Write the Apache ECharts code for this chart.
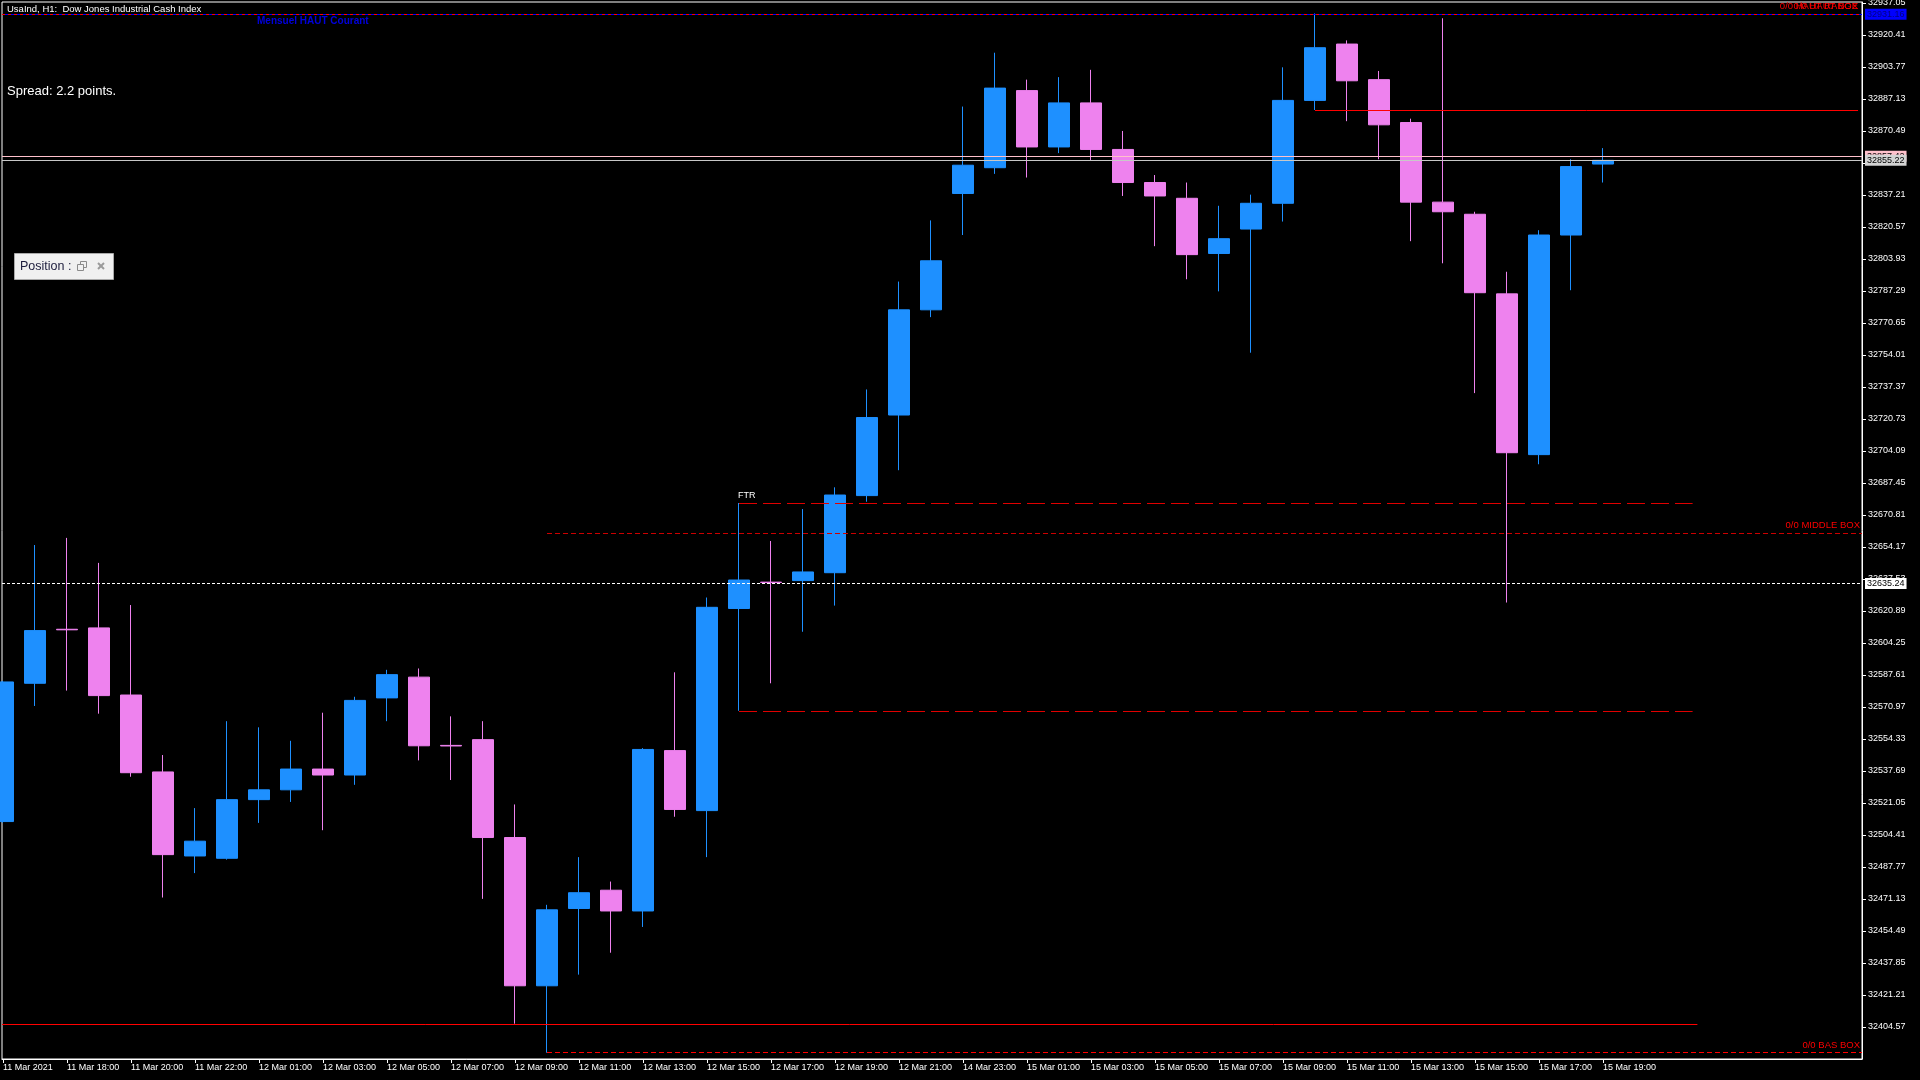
<!DOCTYPE html>
<html>
<head>
<meta charset="utf-8">
<title>UsaInd, H1</title>
<script src="https://cdn.jsdelivr.net/npm/echarts@6.0.0/dist/echarts.min.js"></script>
<style>
  html, body { margin: 0; padding: 0; background: #000; }
  #chart { width: 1920px; height: 1080px; }
</style>
</head>
<body>
<div id="chart"></div>
<script>
// one bar per hour, bar 0 = 11 Mar 16:00
const opens = [32511.4, 32583.3, 32611.4, 32612.1, 32577.2, 32537.2, 32493.5, 32492.3, 32522.8, 32527.9,
  32538.7, 32535.6, 32575.7, 32586.5, 32551.0, 32554.0, 32503.1, 32426.0, 32466.2, 32475.7,
  32464.9, 32548.3, 32517.1, 32622.2, 32635.9, 32636.7, 32640.8, 32680.9, 32722.8, 32777.5,
  32838.0, 32851.4, 32891.5, 32862.2, 32885.1, 32860.9, 32843.7, 32835.5, 32806.8, 32819.5,
  32832.9, 32886.4, 32915.7, 32897.2, 32874.9, 32833.5, 32827.2, 32785.8, 32702.2, 32816.4,
  32853.3];
const closes = [32584.0, 32610.7, 32611.1, 32576.9, 32536.8, 32494.2, 32501.2, 32522.8, 32527.9, 32538.7,
  32535.6, 32574.4, 32587.8, 32550.8, 32550.7, 32503.1, 32426.0, 32465.5, 32474.4, 32464.9,
  32548.9, 32517.7, 32622.8, 32637.0, 32635.7, 32641.2, 32681.2, 32721.5, 32777.5, 32803.0,
  32852.7, 32892.8, 32862.2, 32885.1, 32860.9, 32843.7, 32836.7, 32806.2, 32814.5, 32832.9,
  32886.4, 32913.8, 32896.6, 32873.7, 32833.5, 32828.5, 32786.4, 32703.2, 32816.4, 32852.0,
  32855.22];
const highs = [32584.5, 32655.2, 32658.9, 32645.9, 32624.0, 32546.0, 32518.4, 32563.6, 32560.4, 32553.4,
  32568.0, 32576.3, 32590.3, 32591.0, 32566.1, 32563.6, 32520.3, 32468.1, 32492.9, 32480.2,
  32549.6, 32589.0, 32627.9, 32677.05, 32657.3, 32673.9, 32685.2, 32736.1, 32792.2, 32824.0,
  32883.2, 32911.2, 32897.2, 32898.5, 32902.3, 32870.5, 32847.6, 32843.7, 32831.6, 32837.4,
  32903.6, 32931.6, 32917.6, 32901.7, 32876.9, 32929.1, 32828.5, 32797.3, 32818.9, 32855.8,
  32861.6];
const lows = [32510.8, 32571.5, 32579.5, 32567.5, 32534.7, 32471.9, 32484.6, 32491.6, 32510.7, 32521.6,
  32506.9, 32530.5, 32563.6, 32543.2, 32533.0, 32471.2, 32406.3, 32391.2, 32431.8, 32443.2,
  32456.6, 32513.9, 32492.9, 32569.0, 32583.3, 32610.1, 32623.7, 32677.7, 32694.1, 32773.7,
  32816.4, 32848.2, 32846.3, 32859.0, 32855.2, 32836.7, 32810.6, 32793.4, 32787.1, 32755.2,
  32823.4, 32881.4, 32875.6, 32855.8, 32813.2, 32801.7, 32734.2, 32625.3, 32697.2, 32787.7,
  32843.7];

const tickBars = [0, 2, 4, 6, 8, 10, 12, 14, 16, 18, 20, 22, 24, 26, 28, 30, 32, 34, 36, 38, 40, 42, 44, 46, 48, 50];
const tickLabels = ['11 Mar 2021', '11 Mar 18:00', '11 Mar 20:00', '11 Mar 22:00', '12 Mar 01:00', '12 Mar 03:00',
  '12 Mar 05:00', '12 Mar 07:00', '12 Mar 09:00', '12 Mar 11:00', '12 Mar 13:00', '12 Mar 15:00',
  '12 Mar 17:00', '12 Mar 19:00', '12 Mar 21:00', '14 Mar 23:00', '15 Mar 01:00', '15 Mar 03:00',
  '15 Mar 05:00', '15 Mar 07:00', '15 Mar 09:00', '15 Mar 11:00', '15 Mar 13:00', '15 Mar 15:00',
  '15 Mar 17:00', '15 Mar 19:00'];
const priceTicks = [32404.57, 32421.21, 32437.85, 32454.49, 32471.13, 32487.77, 32504.41, 32521.05,
  32537.69, 32554.33, 32570.97, 32587.61, 32604.25, 32620.89, 32637.53, 32654.17, 32670.81, 32687.45,
  32704.09, 32720.73, 32737.37, 32754.01, 32770.65, 32787.29, 32803.93, 32820.57, 32837.21, 32853.85,
  32870.49, 32887.13, 32903.77, 32920.41, 32937.05];

// indicator levels
const hautRange = 32931.16;
const weekHigh = 32881.4;
const askPrice = 32857.42;
const bidPrice = 32855.22;
const ftrHigh = 32677.05;
const middleBox = 32661.3;
const prevClose = 32635.24;
const ftrLow = 32569.0;
const lowLine = 32406.0;
const basBox = 32391.2;
// bar indices where the level segments start / stop
const ftrBar = 23, ftrEnd = 52.8;
const boxBar = 17;
const weekHighBar = 41, weekHighEnd = 57.97;
const lowLineEnd = 52.95;

const FONT = "'Liberation Sans', Arial, sans-serif";
const X_MIN = -0.03125, X_MAX = 58.09375;
const Y_MIN = 32387.93, Y_MAX = 32937.57;

const candles = opens.map((o, i) => [i, o, closes[i], lows[i], highs[i]]);

function full(value, color, dash, label, extra) {
  return { yAxis: value, lineStyle: Object.assign({ color: color, type: dash, width: 1 }, extra || {}),
    label: label || { show: false } };
}
function seg(x1, x2, value, color, dash, label) {
  return [
    { coord: [x1, value], lineStyle: { color: color, type: dash, width: 1 }, label: label || { show: false } },
    { coord: [x2, value] }
  ];
}
function tag(bg, fg) {
  return { show: true, position: 'end', distance: 3, formatter: p => p.value.toFixed(2),
    color: fg, backgroundColor: bg, padding: [1, 2, 0, 2], fontSize: 9, lineHeight: 10, fontFamily: FONT };
}
function note(text, pos, dist) {
  return { show: true, position: pos, distance: dist, formatter: text, color: '#ff0000',
    fontSize: 9.5, fontFamily: FONT };
}

const chart = echarts.init(document.getElementById('chart'));
const option = {
  backgroundColor: '#000',
  animation: false,
  grid: { left: 2, top: 2, right: 58, bottom: 21, show: true, borderColor: '#fff', borderWidth: 1,
    backgroundColor: '#000', containLabel: false, outerBoundsMode: 'none' },
  xAxis: {
    type: 'value', min: X_MIN, max: X_MAX,
    axisLine: { show: true, onZero: false, lineStyle: { color: '#fff' } },
    axisTick: { show: true, length: 4, customValues: tickBars, lineStyle: { color: '#fff' } },
    axisLabel: { customValues: tickBars, formatter: v => tickLabels[tickBars.indexOf(v)],
      align: 'left', color: '#fff', fontSize: 9, fontFamily: FONT, margin: 4 },
    splitLine: { show: false }
  },
  yAxis: {
    type: 'value', position: 'right', min: Y_MIN, max: Y_MAX,
    axisLine: { show: true, onZero: false, lineStyle: { color: '#fff' } },
    axisTick: { show: true, length: 4, customValues: priceTicks, lineStyle: { color: '#fff' } },
    axisLabel: { customValues: priceTicks, formatter: v => v.toFixed(2), color: '#fff',
      fontSize: 9, fontFamily: FONT, margin: 6 },
    splitLine: { show: false }
  },
  series: [{
    type: 'candlestick',
    data: candles,
    encode: { x: 0, y: [1, 2, 3, 4] },
    barWidth: 22,
    itemStyle: { color: '#1e90ff', color0: '#ee82ee', borderColor: '#1e90ff', borderColor0: '#ee82ee', borderWidth: 1 },
    markLine: {
      silent: true, symbol: ['none', 'none'], animation: false,
      data: [
        full(hautRange, '#ff0000', [3, 3], note('0/0 HAUT RANGE', 'insideEndTop', [4, 3])),
        full(hautRange, 'rgba(0,0,0,0)', 'solid', note('0/0 HAUT BOX', 'insideEndTop', [4, 3])),
        full(hautRange, '#0000ff', [3, 3], tag('#0000ff', '#000080'), { dashOffset: 3 }),
        seg(weekHighBar, weekHighEnd, weekHigh, '#ff0000', 'solid'),
        full(askPrice, '#ffc0cb', 'solid', tag('#ffc0cb', '#000')),
        full(bidPrice, '#c8c8c8', 'solid', tag('#d3d3d3', '#000')),
        seg(ftrBar, ftrEnd, ftrHigh, '#e00000', [18, 6],
          { show: true, position: 'insideStartTop', distance: [-1, 3], formatter: 'FTR', color: '#fff', fontSize: 9, fontFamily: FONT }),
        seg(boxBar, X_MAX, middleBox, '#cc0000', [5, 3], note('0/0 MIDDLE BOX', 'insideEndTop', [2, 3])),
        full(prevClose, '#ffffff', [3, 2], tag('#ffffff', '#000')),
        seg(ftrBar, ftrEnd, ftrLow, '#e00000', [18, 6]),
        seg(X_MIN, lowLineEnd, lowLine, '#ff0000', 'solid'),
        seg(boxBar, X_MAX, basBox, '#ff0000', [5, 3], note('0/0 BAS BOX', 'insideEndTop', [2, 2]))
      ]
    }
  }],
  graphic: { elements: [
    { type: 'text', x: 7, y: 9, z: 100, style: { text: 'UsaInd, H1:  Dow Jones Industrial Cash Index',
      fill: '#fff', font: "9.5px 'Liberation Sans', Arial", verticalAlign: 'middle' } },
    { type: 'text', x: 257, y: 21, z: 100, style: { text: 'Mensuel HAUT Courant',
      fill: '#0000dd', font: "bold 10px 'Liberation Sans', Arial", verticalAlign: 'middle' } },
    { type: 'text', x: 7, y: 91, z: 100, style: { text: 'Spread: 2.2 points.',
      fill: '#fff', font: "13px 'Liberation Sans', Arial", verticalAlign: 'middle' } },
    { type: 'rect', z: 100, shape: { x: 14.5, y: 253.5, width: 99, height: 26 },
      style: { fill: '#f0f0f0', stroke: '#a9a9a9', lineWidth: 1 } },
    { type: 'text', x: 20, y: 266.5, z: 101, style: { text: 'Position :',
      fill: '#1c1c3c', font: "12.5px 'Liberation Sans', Arial", verticalAlign: 'middle' } },
    { type: 'rect', z: 101, shape: { x: 80.5, y: 261.5, width: 6, height: 6 },
      style: { fill: 'none', stroke: '#8a8a8a', lineWidth: 1 } },
    { type: 'rect', z: 102, shape: { x: 77.5, y: 264.5, width: 6, height: 6 },
      style: { fill: '#f0f0f0', stroke: '#8a8a8a', lineWidth: 1 } },
    { type: 'line', z: 101, shape: { x1: 98, y1: 263, x2: 104, y2: 269 }, style: { stroke: '#9a9a9a', lineWidth: 2 } },
    { type: 'line', z: 101, shape: { x1: 104, y1: 263, x2: 98, y2: 269 }, style: { stroke: '#9a9a9a', lineWidth: 2 } }
  ] }
};
chart.setOption(option);
window.addEventListener('resize', function () {
  chart.resize();
});
</script>
</body>
</html>
